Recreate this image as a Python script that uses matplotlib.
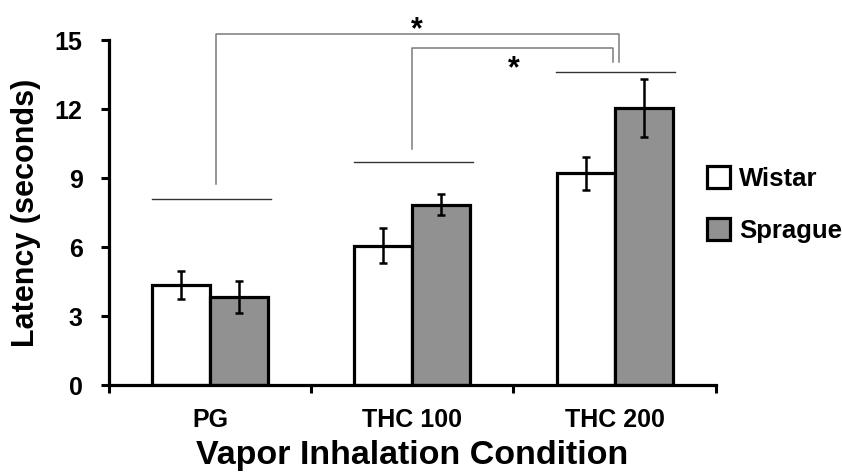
import matplotlib
matplotlib.use("Agg")
import matplotlib.pyplot as plt
import numpy as np

plt.rcParams['font.family'] = ['Liberation Sans', 'DejaVu Sans']
plt.rcParams['font.weight'] = 'bold'

conditions = ['PG', 'THC 100', 'THC 200']
wistar = [4.37, 6.08, 9.21]
wistar_sem = [0.62, 0.75, 0.72]
sprague = [3.86, 7.85, 12.05]
sprague_sem = [0.70, 0.45, 1.27]

fig = plt.figure(figsize=(8.42, 4.73), dpi=100)
ax = fig.add_axes([0.1295, 0.185, 0.7205, 0.730])

x = np.arange(len(conditions))
w = 0.287
err_kw = dict(ecolor='black', elinewidth=1.8, capsize=3.2, capthick=1.8)
ax.bar(x - w / 2, wistar, w, yerr=wistar_sem, color='white', edgecolor='black',
       linewidth=2.3, label='Wistar', error_kw=err_kw, zorder=2)
ax.bar(x + w / 2, sprague, w, yerr=sprague_sem, color='#919191', edgecolor='black',
       linewidth=2.3, label='Sprague', error_kw=err_kw, zorder=2)

ax.set_xlim(-0.5, 2.5)
ax.set_ylim(0, 15)
ax.set_yticks([0, 3, 6, 9, 12, 15])
ax.set_xticks(x)
ax.set_xticklabels(conditions)
ax.set_xticks([-0.5, 0.5, 1.5, 2.5], minor=True)
ax.tick_params(axis='x', which='major', length=0, pad=16, labelsize=18)
ax.tick_params(axis='x', which='minor', length=6, width=2.2, direction='out')
ax.tick_params(axis='y', length=6, width=2.2, pad=13, labelsize=18)
for lab in ax.get_xticklabels() + ax.get_yticklabels():
    lab.set_fontweight('bold')

for s in ['top', 'right']:
    ax.spines[s].set_visible(False)
for s in ['left', 'bottom']:
    ax.spines[s].set_linewidth(2.3)

ax.set_ylabel('Latency (seconds)', fontsize=22, fontweight='bold', labelpad=10)
ax.set_xlabel('Vapor Inhalation Condition', fontsize=24.5, fontweight='bold', labelpad=6)

# group lines above bars
group_y = [8.12, 9.69, 13.64]
for i, gy in enumerate(group_y):
    ax.plot([i - 0.29, i + 0.30], [gy, gy], color='#333333', lw=1.0, clip_on=False)

# significance brackets
br = '#7a7a7a'
ax.plot([0.03, 0.03, 2.02, 2.02], [8.75, 15.29, 15.29, 14.05], color=br, lw=1.1, clip_on=False)
ax.plot([1.0, 1.0, 1.99, 1.99], [10.27, 14.64, 14.64, 14.05], color=br, lw=1.1, clip_on=False)
ax.text(1.02, 14.77, '*', fontsize=22, fontweight='bold', ha='center', va='bottom', clip_on=False)
ax.text(1.50, 13.07, '*', fontsize=22, fontweight='bold', ha='center', va='bottom', clip_on=False)

ax.legend(loc='center left', bbox_to_anchor=(0.986, 0.524), frameon=False,
          prop={'size': 18.5, 'weight': 'bold'}, handlelength=0.9, handleheight=0.9,
          labelspacing=1.06, handletextpad=0.35, borderaxespad=0, borderpad=0)

fig.savefig('out.png', dpi=100)
